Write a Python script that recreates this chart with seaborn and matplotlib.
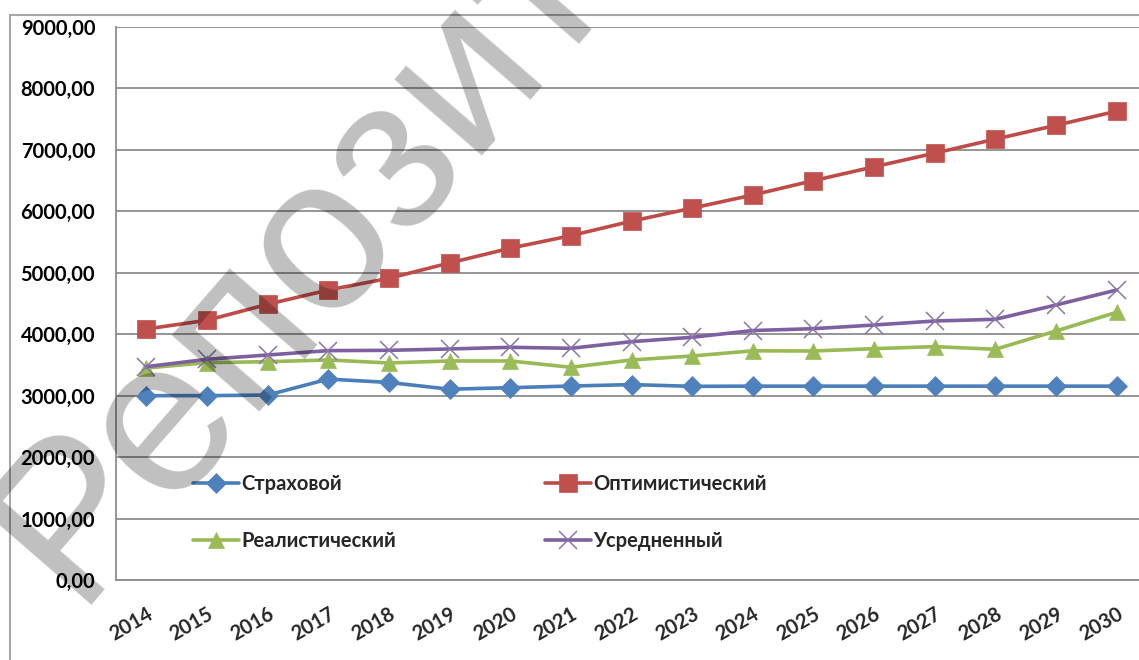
import matplotlib
matplotlib.use("Agg")
import matplotlib.pyplot as plt
from matplotlib.lines import Line2D
from matplotlib.ticker import FixedLocator, FuncFormatter
import numpy as np
import pandas as pd
import seaborn as sns

# ---- data -------------------------------------------------------------
years = [2014, 2015, 2016, 2017, 2018, 2019, 2020, 2021, 2022,
         2023, 2024, 2025, 2026, 2027, 2028, 2029, 2030]

strakhovoy = [3000, 3000, 3010, 3270, 3215, 3105, 3130, 3157, 3180,
              3152, 3155, 3155, 3155, 3155, 3155, 3155, 3155]
optimistic = [4085, 4227, 4487, 4720, 4910, 5160, 5400, 5604, 5840,
              6052, 6266, 6500, 6725, 6947, 7175, 7400, 7630]
realistic = [3450, 3537, 3553, 3581, 3532, 3565, 3565, 3462, 3581,
             3646, 3730, 3727, 3765, 3798, 3755, 4053, 4357]
averaged = [3472, 3592, 3662, 3733, 3738, 3760, 3787, 3771, 3879,
            3950, 4060, 4090, 4150, 4215, 4243, 4476, 4720]

series_names = ["Страховой", "Оптимистический", "Реалистический", "Усредненный"]
series_values = [strakhovoy, optimistic, realistic, averaged]

y_ticks = [0, 1000, 2000, 3000, 4000, 5000, 6000, 7000, 8000, 9000]
watermark = "Репозиторий"

# ---- styling ----------------------------------------------------------
sns.set_theme(style="white")
plt.rcParams["font.family"] = ["Lato", "DejaVu Sans"]
plt.rcParams["font.weight"] = "bold"

line_colors = ["#4A7EBB", "#BE4B48", "#98B954", "#7D60A0"]
marker_faces = ["#4F81BD", "#C0504D", "#9BBB59", "#8064A2"]
markers = ["D", "s", "^", "x"]
marker_sizes = [10, 12.5, 12, 13]

W, H = 1139, 660
fig = plt.figure(figsize=(W / 100, H / 100), dpi=100)

# plot area in pixel terms
left_px, right_px, top_px, bottom_px = 116, 1147, 27, 580
ax = fig.add_axes([left_px / W, 1 - bottom_px / H,
                   (right_px - left_px) / W, (bottom_px - top_px) / H])

df = pd.DataFrame({
    "pos": np.tile(np.arange(len(years)), len(series_names)),
    "value": np.concatenate([np.asarray(v, float) for v in series_values]),
    "series": np.repeat(series_names, len(years)),
})

handles = {}
for name, lc, fc, mk, ms in zip(series_names, line_colors, marker_faces,
                                markers, marker_sizes):
    sub = df[df["series"] == name]
    kw = dict(marker=mk, markersize=ms, linewidth=2.6, color=lc)
    if mk == "x":
        kw.update(markeredgecolor="#8A74AC", markeredgewidth=1.1)
    else:
        kw.update(markerfacecolor=fc, markeredgecolor=fc, markeredgewidth=0.5)
    sns.lineplot(data=sub, x="pos", y="value", ax=ax, label=name,
                 zorder=3, **kw)
    handles[name] = ax.get_lines()[-1]

# axes ranges and grid
ax.set_xlim(-0.5, len(years) - 0.5)
ax.set_ylim(0, 9000)
ax.set_xlabel("")
ax.set_ylabel("")

grid_color = "#8C8C8C"
ax.yaxis.set_major_locator(FixedLocator(y_ticks))
ax.yaxis.set_major_formatter(FuncFormatter(lambda v, p: f"{v:.2f}".replace(".", ",")))
ax.grid(axis="y", color=grid_color, linewidth=1.3, zorder=0)
ax.grid(axis="x", visible=False)

for side in ["top", "right"]:
    ax.spines[side].set_visible(False)
for side in ["left", "bottom"]:
    ax.spines[side].set_color(grid_color)
    ax.spines[side].set_linewidth(1.3)

ax.tick_params(axis="y", which="major", length=7, width=1.3, color=grid_color,
               direction="out", pad=8, labelsize=14.5, labelcolor="black")

ax.set_xticks(np.arange(len(years)))
ax.set_xticklabels([str(y) for y in years], rotation=30, ha="right",
                   va="top", rotation_mode="anchor", fontsize=14.5,
                   fontweight="bold")
ax.set_xticks(np.arange(len(years)) + 0.5, minor=True)
ax.tick_params(axis="x", which="major", length=0, pad=17)
ax.tick_params(axis="x", which="minor", length=7, width=1.3, color=grid_color,
               direction="out")
for lab in ax.get_yticklabels():
    lab.set_fontweight("bold")

# legend inside the plot, two columns filled row by row
order = ["Страховой", "Реалистический", "Оптимистический", "Усредненный"]
leg = ax.legend([handles[n] for n in order], order,
                loc="upper left",
                bbox_to_anchor=(193 / W, 1 - 474 / H),
                bbox_transform=fig.transFigure,
                ncol=2, frameon=False, fontsize=14.5,
                handlelength=2.3, handletextpad=0.1,
                columnspacing=7.4, labelspacing=1.85, borderpad=0,
                borderaxespad=0)
for t in leg.get_texts():
    t.set_fontweight("bold")

# outer chart frame
frame_color = "#A6A6A6"
fig.add_artist(Line2D([10 / W, 10 / W], [0, 1 - 15 / H], transform=fig.transFigure,
                      color=frame_color, linewidth=1.5))
fig.add_artist(Line2D([10 / W, 1], [1 - 15 / H, 1 - 15 / H], transform=fig.transFigure,
                      color=frame_color, linewidth=1.5))

# diagonal watermark over the chart
fig.text(74 / W, 1 - 604 / H, watermark, rotation=49, rotation_mode="anchor",
         ha="left", va="baseline", fontsize=158, color="black", alpha=0.25,
         family=["Liberation Sans", "DejaVu Sans"], fontweight="normal",
         zorder=10)

fig.savefig("out.png", dpi=100)
